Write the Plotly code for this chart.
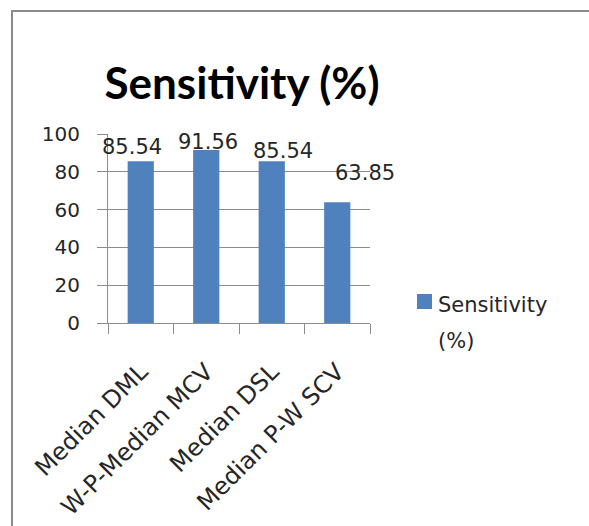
import plotly.graph_objects as go

# Sensitivity per method
categories = ["Median DML", "W-P-Median MCV", "Median DSL", "Median P-W SCV"]
sensitivity = [85.54, 91.56, 85.54, 63.85]
y_ticks = [0, 20, 40, 60, 80, 100]
series_name = "Sensitivity (%)"

# label nudges (px) so the value labels sit where they were placed by hand
label_dx = [-9, 2, 11, 28]
label_dy = [14, 8, 10, 29]

BAR = "#4F81BD"
GRID = "#8c8c8c"
TXT = "#262626"

# plot area in pixels: x 108..370, y 134..323
PL, PR, PT, PB = 108, 370, 134, 323
W, H = 589, 526


def px_x(x):
    return (x - PL) / (PR - PL)


def px_y(y):
    return (PB - y) / (PB - PT)


fig = go.Figure(
    go.Bar(
        x=categories,
        y=sensitivity,
        name=series_name,
        marker=dict(color=BAR, line=dict(width=0)),
        width=0.4,
        showlegend=False,
    )
)

for c, v, dx, dy in zip(categories, sensitivity, label_dx, label_dy):
    fig.add_annotation(
        x=c, y=v, text=f"{v:.2f}", showarrow=False,
        xanchor="center", yanchor="middle", xshift=dx, yshift=dy,
        font=dict(family="DejaVu Sans", size=21, color=TXT),
    )

# outer chart frame (runs past the right and bottom edges)
fig.add_shape(
    type="rect", xref="paper", yref="paper",
    x0=px_x(12), x1=px_x(700), y0=px_y(600), y1=px_y(11),
    line=dict(color="#8a8a8a", width=2), fillcolor="rgba(0,0,0,0)", layer="below",
)

# legend: swatch plus two-line label
fig.add_shape(
    type="rect", xref="paper", yref="paper",
    x0=px_x(417), x1=px_x(432), y0=px_y(309), y1=px_y(294),
    line=dict(width=0), fillcolor=BAR,
)
name_word, name_unit = series_name.split(" ")
for txt, yc in ((name_word, 305), (name_unit, 341)):
    fig.add_annotation(
        xref="paper", yref="paper", x=px_x(436), y=px_y(yc),
        xanchor="left", yanchor="middle", text=txt, showarrow=False,
        font=dict(family="DejaVu Sans", size=21, color=TXT),
    )

fig.update_layout(
    width=W, height=H,
    margin=dict(l=PL, r=W - PR, t=PT, b=H - PB),
    paper_bgcolor="white", plot_bgcolor="white",
    title=dict(
        text="<b>Sensitivity (%)</b>",
        x=242 / W, xanchor="center", y=1 - 84 / H, yanchor="middle",
        font=dict(family="Lato", size=44, color="black"),
    ),
    showlegend=False,
    bargap=0.6,
)

fig.update_yaxes(
    range=[0, 100], tickvals=y_ticks, automargin=False,
    showgrid=True, gridcolor=GRID, gridwidth=1,
    showline=True, linecolor=GRID, linewidth=1,
    ticks="outside", ticklen=10, tickcolor=GRID,
    tickfont=dict(family="DejaVu Sans", size=20, color=TXT),
    zeroline=False, ticklabelstandoff=13,
)
fig.update_xaxes(
    range=[-0.5, 3.5], automargin=False,
    showgrid=False, showline=True, linecolor=GRID, linewidth=1,
    ticks="outside", ticklen=10, tickcolor=GRID, tickson="boundaries",
    tickangle=-45, ticklabelstandoff=24,
    tickfont=dict(family="DejaVu Sans", size=24, color=TXT),
)

fig.write_html("out.html")
